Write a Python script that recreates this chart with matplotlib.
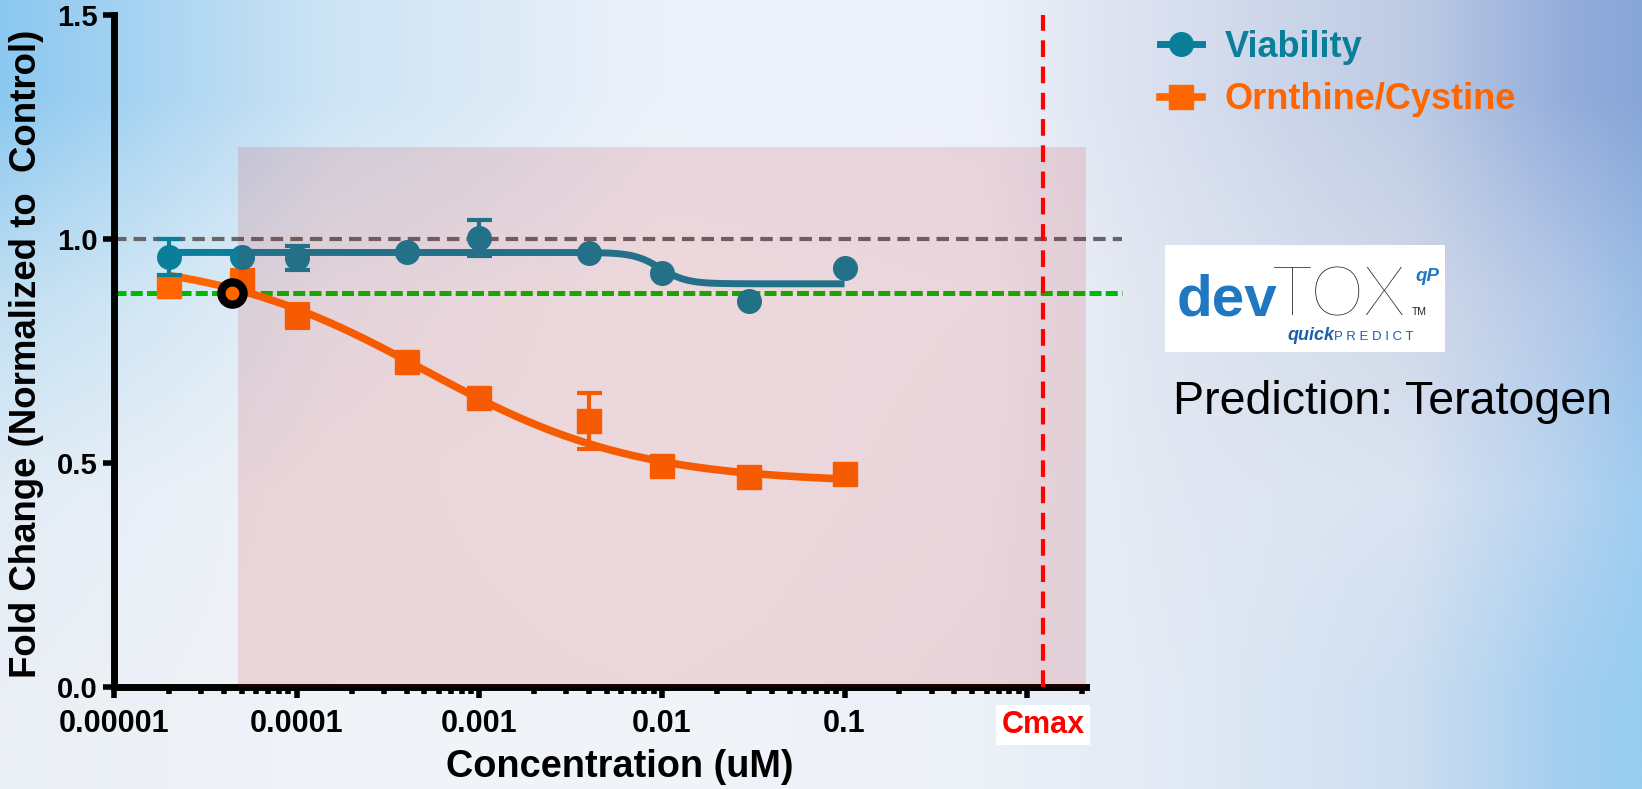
import numpy as np
import matplotlib
matplotlib.use("Agg")
import matplotlib.pyplot as plt
from matplotlib.lines import Line2D
from matplotlib.ticker import FixedLocator, FixedFormatter, NullFormatter

plt.rcParams['font.family'] = ['Liberation Sans', 'DejaVu Sans']

# ---------------- data ----------------
conc = [2e-5, 5e-5, 1e-4, 4e-4, 1e-3, 4e-3, 1e-2, 3e-2, 1e-1]
viability = [0.960, 0.960, 0.958, 0.971, 1.002, 0.968, 0.924, 0.862, 0.936]
viability_err = [0.040, 0.0, 0.027, 0.0, 0.040, 0.0, 0.0, 0.0, 0.0]
ornithine = [0.895, 0.905, 0.828, 0.725, 0.645, 0.594, 0.493, 0.469, 0.475]
ornithine_err = [0.020, 0.025, 0.027, 0.0, 0.0, 0.062, 0.0, 0.0, 0.0]

# fitted 4-parameter curves (top, bottom, EC50, hill)
viab_fit = (0.970, 0.900, 0.0098, 6.0)
orn_fit = (0.960, 0.455, 5.0e-4, 0.75)
fit_range = (2e-5, 1e-1)

baseline = 1.0
threshold = 0.88
threshold_conc = 4.4e-5
cmax = 1.22
shade_x = (4.8e-5, 2.1)
shade_top = 1.205

xtick_vals = [1e-5, 1e-4, 1e-3, 1e-2, 1e-1, 1.0]
xtick_labels = ['0.00001', '0.0001', '0.001', '0.01', '0.1', '']
ytick_vals = [0.0, 0.5, 1.0, 1.5]
ytick_labels = ['0.0', '0.5', '1.0', '1.5']

TEAL = '#0a7f9a'
ORANGE = '#ff6600'

W, H = 1642, 789
fig = plt.figure(figsize=(W / 100, H / 100), dpi=100)

# ---------------- background gradient ----------------
bx = [0.0, 0.2, 0.4, 0.6, 0.72, 0.86, 0.95, 1.0]
brows = [
    [(140, 200, 240), (205, 228, 245), (236, 241, 249), (236, 240, 249), (215, 222, 238), (190, 203, 228), (150, 175, 220), (135, 165, 215)],
    [(192, 223, 242), (232, 240, 248), (243, 246, 251), (240, 243, 250), (222, 228, 240), (208, 216, 232), (180, 200, 232), (155, 190, 230)],
    [(226, 236, 245), (240, 243, 248), (243, 246, 251), (238, 242, 249), (225, 232, 243), (218, 227, 241), (185, 212, 240), (160, 205, 240)],
    [(234, 239, 245), (240, 243, 248), (241, 244, 249), (236, 240, 247), (226, 234, 245), (205, 222, 241), (165, 207, 240), (150, 205, 240)],
]
xs_bg = np.linspace(0, 1, 300)
grid = np.zeros((len(brows), xs_bg.size, 3))
for i, row in enumerate(brows):
    arr = np.array(row, dtype=float)
    for c in range(3):
        grid[i, :, c] = np.interp(xs_bg, bx, arr[:, c])
grid /= 255.0
bg = fig.add_axes([0, 0, 1, 1], zorder=-10)
bg.imshow(grid, extent=(0, 1, 0, 1), aspect='auto', interpolation='bilinear')
bg.set_xlim(0, 1); bg.set_ylim(0, 1)
bg.axis('off')

# ---------------- main axes ----------------
x0px, x1px, y0px, y1px = 114, 1086, 687, 15
ax = fig.add_axes([x0px / W, 1 - y0px / H, (x1px - x0px) / W, (y0px - y1px) / H])
ax.patch.set_visible(False)
ax.set_xscale('log')
ax.set_xlim(1e-5, 2.1)
ax.set_ylim(0, 1.5)

for s in ['top', 'right']:
    ax.spines[s].set_visible(False)
for s in ['left', 'bottom']:
    ax.spines[s].set_linewidth(5)
    ax.spines[s].set_capstyle('projecting')

ax.xaxis.set_major_locator(FixedLocator(xtick_vals))
ax.xaxis.set_major_formatter(FixedFormatter(xtick_labels))
minors = [m * 10.0 ** e for e in range(-5, 1) for m in range(2, 10) if m * 10.0 ** e <= 2.1]
ax.xaxis.set_minor_locator(FixedLocator(minors))
ax.xaxis.set_minor_formatter(NullFormatter())
ax.set_yticks(ytick_vals)
ax.set_yticklabels(ytick_labels)
ax.tick_params(axis='both', which='major', length=8, width=4, color='black')
ax.tick_params(axis='x', which='minor', length=5, width=4, color='black')
ax.tick_params(axis='y', labelsize=21, pad=4)
ax.tick_params(axis='x', labelsize=22, pad=8)
for lab in ax.get_xticklabels() + ax.get_yticklabels():
    lab.set_fontweight('bold')

ax.set_xlabel('Concentration (uM)', fontsize=27.3, fontweight='bold')
ax.xaxis.set_label_coords((620 - x0px) / (x1px - x0px), (y0px - 767) / (y0px - y1px))
ax.xaxis.label.set_va('center')
ax.set_ylabel('Fold Change (Normalized to  Control)', fontsize=26.4, fontweight='bold')
ax.yaxis.set_label_coords((27 - x0px) / (x1px - x0px), (y0px - 354) / (y0px - y1px))
ax.yaxis.label.set_va('center')

# reference lines
ax.plot([1e-5, 3.3], [baseline, baseline], color='#666666', lw=3,
        linestyle=(0, (3.0, 1.7)), clip_on=False, zorder=2)
ax.plot([1e-5, 3.3], [threshold, threshold], color='#00bb00', lw=3.6,
        linestyle=(0, (2.4, 0.85)), clip_on=False, zorder=2)


def four_pl(x, p):
    top, bottom, ec50, hill = p
    return bottom + (top - bottom) / (1.0 + (x / ec50) ** hill)


xs = np.logspace(np.log10(fit_range[0]), np.log10(fit_range[1]), 500)

# ornithine/cystine
ax.plot(xs, four_pl(xs, orn_fit), color=ORANGE, lw=5.5, zorder=3, solid_capstyle='butt')
oe = np.array(ornithine_err)
m = oe > 0
ax.errorbar(np.array(conc)[m], np.array(ornithine)[m], yerr=oe[m], fmt='none',
            ecolor=ORANGE, elinewidth=3, capsize=9, capthick=3, zorder=3)
ax.plot(conc, ornithine, 's', ms=17, color=ORANGE, zorder=3)

# viability
ax.plot(xs, four_pl(xs, viab_fit), color=TEAL, lw=5, zorder=4, solid_capstyle='butt')
ve = np.array(viability_err)
m = ve > 0
ax.errorbar(np.array(conc)[m], np.array(viability)[m], yerr=ve[m], fmt='none',
            ecolor=TEAL, elinewidth=3, capsize=9, capthick=3, zorder=4)
ax.plot(conc, viability, 'o', ms=17, color=TEAL, zorder=4)

# shaded range (overlay)
ax.fill_between(list(shade_x), [0, 0], [shade_top, shade_top], color=(200 / 255, 20 / 255, 20 / 255),
                alpha=0.13, lw=0, zorder=5)

# Cmax line
ax.plot([cmax, cmax], [0, 1.5], color='#ff0000', lw=3, linestyle=(0, (4.0, 2.3)),
        zorder=6, clip_on=False)
ax.text(cmax, (y0px - 725) / (y0px - y1px), 'Cmax', transform=ax.get_xaxis_transform(),
        ha='center', va='center', fontsize=22, fontweight='bold', color='#ff0000',
        bbox=dict(boxstyle='square,pad=0.17', fc='white', ec='none'), zorder=7)

# threshold crossing point
ax.plot([threshold_conc], [threshold], 'o', ms=16, mfc=ORANGE, mec='black', mew=6, zorder=8)

# ---------------- legend ----------------
handles = [
    Line2D([], [], color=TEAL, lw=5, marker='o', ms=17),
    Line2D([], [], color=ORANGE, lw=5.5, marker='s', ms=17),
]
leg = fig.legend(handles, ['Viability', 'Ornthine/Cystine'], loc='upper left',
                 bbox_to_anchor=(1160 / W, 1 - 30 / H), frameon=False,
                 prop=dict(family='Liberation Sans', weight='bold', size=26),
                 handlelength=1.16, handletextpad=0.62, labelspacing=0.48,
                 borderpad=0, borderaxespad=0)
for t, c in zip(leg.get_texts(), [TEAL, ORANGE]):
    t.set_color(c)

# ---------------- logo ----------------
lg = fig.add_axes([1165 / W, 1 - 352 / H, 280 / W, 107 / H])
lg.set_xlim(0, 280); lg.set_ylim(107, 0)
lg.set_facecolor('white')
lg.set_xticks([]); lg.set_yticks([])
for s in lg.spines.values():
    s.set_visible(False)
lg.text(12, 71, 'dev', fontsize=42, fontweight='bold', color='#1f78c1',
        ha='left', va='baseline', family=['Liberation Sans', 'DejaVu Sans'])
lg.text(107, 71, 'TOX', fontsize=49, fontweight='light', color='#222222',
        ha='left', va='baseline', family=['Lato', 'DejaVu Sans'])
lg.text(250, 36, 'qP', fontsize=13.5, fontweight='bold', fontstyle='italic', color='#1f78c1',
        ha='left', va='baseline', family=['Liberation Sans', 'DejaVu Sans'])
lg.text(247, 70, 'TM', fontsize=7.5, color='#222222',
        ha='left', va='baseline', family=['Liberation Sans', 'DejaVu Sans'])
lg.text(122, 95, 'quick', fontsize=13, fontweight='bold', fontstyle='italic', color='#1d5fa8',
        ha='left', va='baseline', family=['Liberation Sans', 'DejaVu Sans'])
lg.text(169, 95, 'P R E D I C T', fontsize=9.5, color='#1d5fa8',
        ha='left', va='baseline', family=['Liberation Sans', 'DejaVu Sans'])

fig.text(1173 / W, 1 - 402 / H, 'Prediction: Teratogen', fontsize=33.5, color='black',
         ha='left', va='center', family=['Liberation Sans', 'DejaVu Sans'])

fig.savefig('out.png', dpi=100)
